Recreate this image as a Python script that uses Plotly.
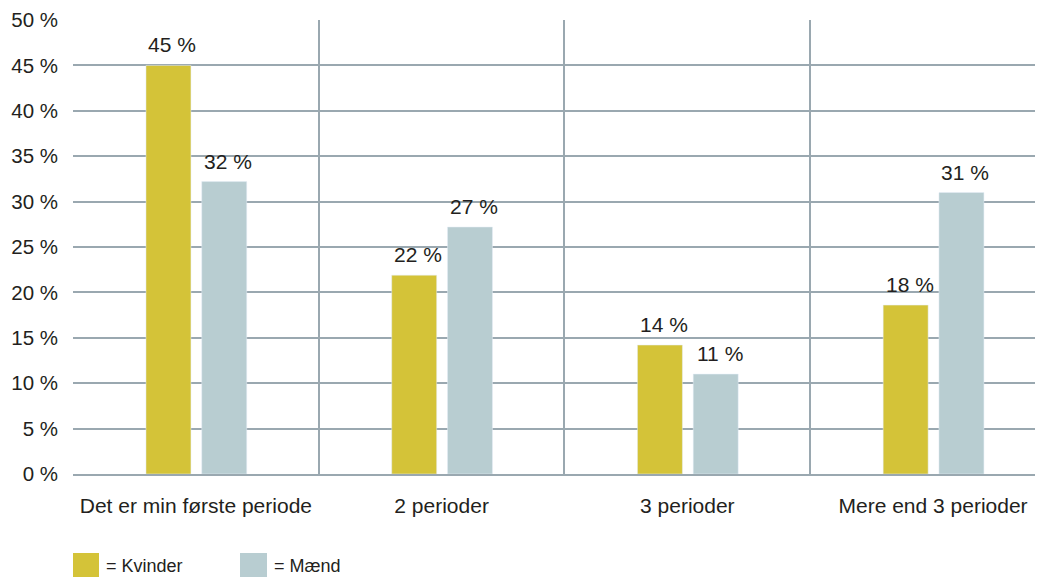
import plotly.graph_objects as go

categories = ["Det er min første periode", "2 perioder", "3 perioder", "Mere end 3 perioder"]
kvinder = [45.0, 21.9, 14.2, 18.6]
maend = [32.2, 27.2, 11.0, 31.0]
kvinder_labels = ["45 %", "22 %", "14 %", "18 %"]
maend_labels = ["32 %", "27 %", "11 %", "31 %"]
series_names = ["Kvinder", "Mænd"]
colors = ["#D4C338", "#B8CDD1"]

FONT = "Liberation Sans, Arial, sans-serif"
TXT = "#231F20"
GRID = "#9AA8B0"
FS = 21

# page offset (browser body margin) of 8 px
OFF = 8
ML, MT, W, H = 73 - OFF, 20 - OFF, 1043, 577
PB = 474 - OFF
PW = W - ML
PH = PB - MT
XR = [-0.5, 3.48]
CAT_PX = PW / (XR[1] - XR[0])

BW = 0.183
offsets = [-0.203, 0.024]

fig = go.Figure()
for vals, labels, name, c, off in zip([kvinder, maend], [kvinder_labels, maend_labels],
                                      series_names, colors, offsets):
    fig.add_trace(go.Bar(x=categories, y=vals, name=name, marker_color=c,
                         width=BW, offset=off, textposition="none", hoverinfo="x+y+name"))
    for cat, v, lab in zip(categories, vals, labels):
        fig.add_annotation(x=cat, y=v, text=lab, showarrow=False, yanchor="bottom",
                           xanchor="center", xshift=(off + BW / 2) * CAT_PX + 4, yshift=7,
                           font=dict(family=FONT, size=FS, color=TXT))

fig.update_layout(
    width=W, height=H,
    margin=dict(l=ML, r=0, t=MT, b=H - PB),
    paper_bgcolor="white", plot_bgcolor="white",
    barmode="overlay",
    showlegend=False,
    font=dict(family=FONT, size=FS, color=TXT),
)
fig.update_xaxes(range=XR, tickson="boundaries", showgrid=True, gridcolor=GRID, gridwidth=1.5,
                 ticks="", showline=True, linecolor=GRID, linewidth=1.5, ticklabelstandoff=12,
                 tickfont=dict(family=FONT, size=FS, color=TXT))
fig.update_yaxes(range=[0, 50], dtick=5, ticksuffix=" %", showgrid=True, gridcolor=GRID, gridwidth=1.5,
                 zeroline=False, ticks="", ticklabelstandoff=14,
                 tickfont=dict(family=FONT, size=20.5, color=TXT))


def px(x):
    return (x - OFF - ML) / PW


def py(y):
    return (PB - (y - OFF)) / PH


# custom legend
leg = [(73, 99, 104), (240, 267, 272)]
for (x0, x1, tx), name, c in zip(leg, series_names, colors):
    fig.add_shape(type="rect", xref="paper", yref="paper",
                  x0=px(x0), x1=px(x1), y0=py(553), y1=py(580),
                  fillcolor=c, line_width=0)
    fig.add_annotation(xref="paper", yref="paper", x=px(tx), y=py(566),
                       text="= " + name, showarrow=False, xanchor="left", yanchor="middle",
                       font=dict(family=FONT, size=18, color=TXT))

fig.write_html("out.html")
